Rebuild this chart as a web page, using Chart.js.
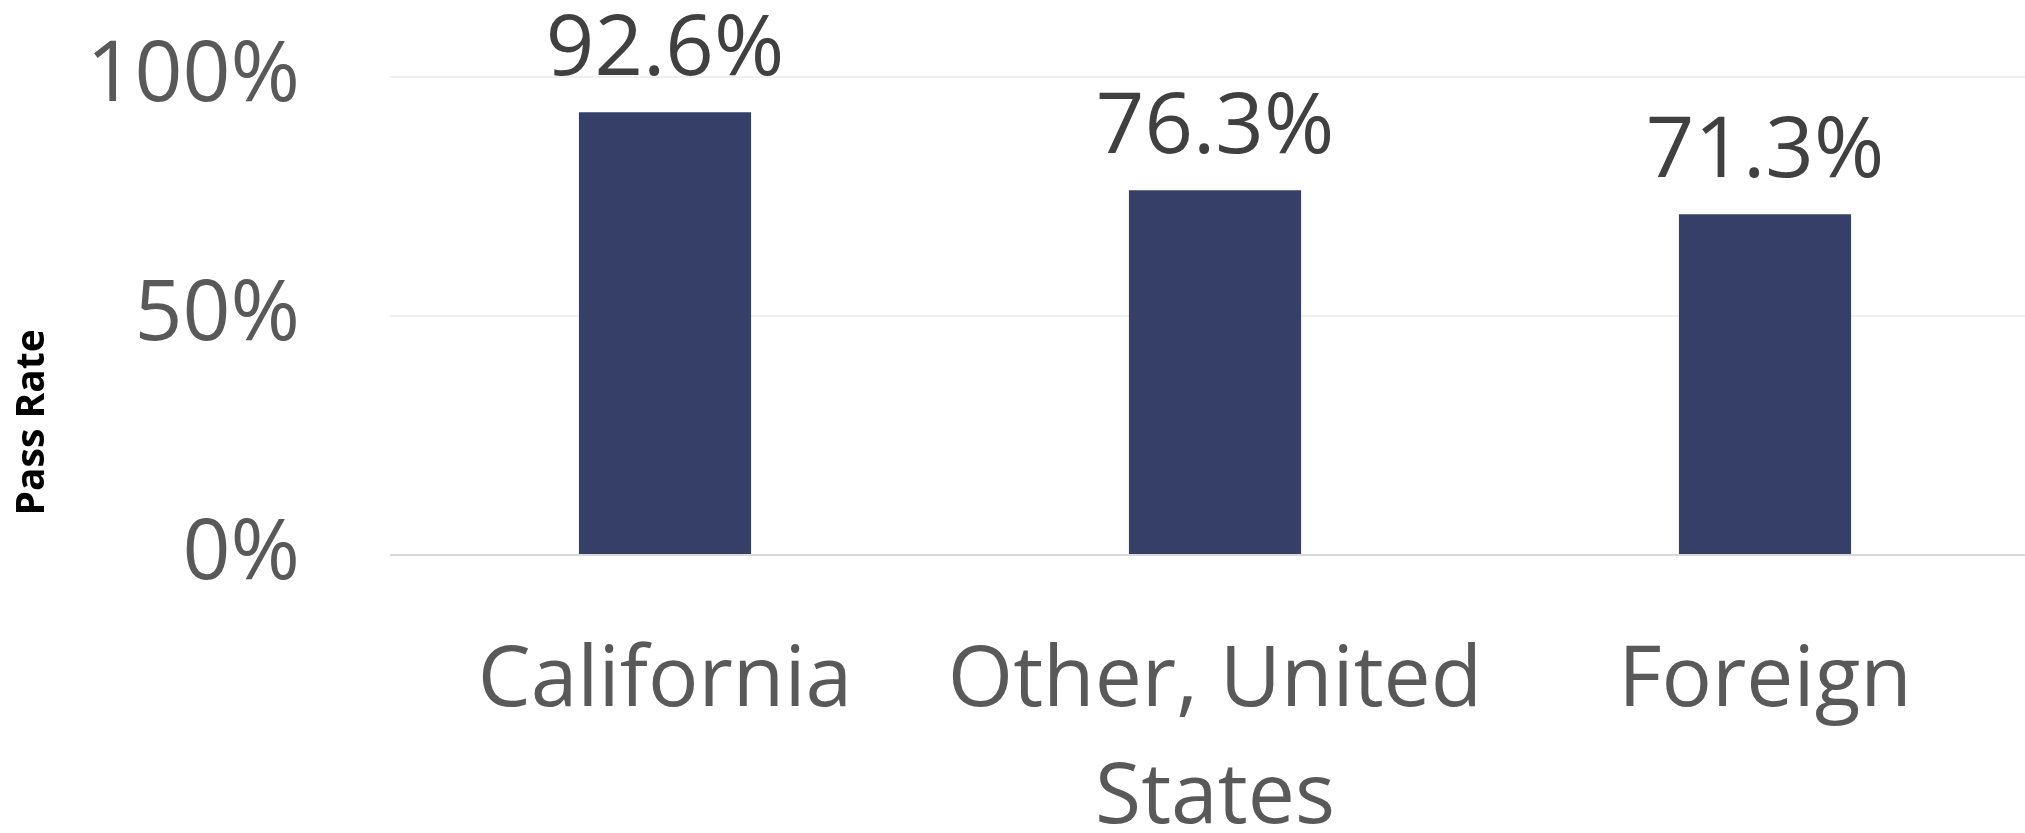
<!DOCTYPE html>
<html>
<head>
<meta charset="utf-8">
<script src="https://cdn.jsdelivr.net/npm/chart.js@4.4.1/dist/chart.umd.min.js"></script>
<style>
  html, body { margin: 0; padding: 0; background: #fff; overflow: hidden; }
  /* plot runs a little past the right edge in the original, so the canvas is wider than the window */
  #wrap { width: 2040px; height: 833px; position: relative; }
</style>
</head>
<body>
<div id="wrap"><canvas id="passChart"></canvas></div>
<script>
const categories = ['California', ['Other, United', 'States'], 'Foreign'];
const passRates = [92.6, 76.3, 71.3];
const yTicks = [0, 50, 100];
const yTitle = 'Pass Rate';

// value labels above bars
const barLabels = {
  id: 'barLabels',
  afterDatasetsDraw(chart) {
    const ctx = chart.ctx;
    const meta = chart.getDatasetMeta(0);
    ctx.save();
    ctx.font = '85px "Open Sans"';
    ctx.fillStyle = '#404040';
    ctx.textAlign = 'center';
    ctx.textBaseline = 'alphabetic';
    meta.data.forEach((bar, i) => {
      ctx.fillText(passRates[i].toFixed(1) + '%', bar.x, bar.y - 37);
    });
    ctx.restore();
  }
};

// rotated axis title, sits lower than the plot middle like the original
const sideTitle = {
  id: 'sideTitle',
  afterDraw(chart) {
    const ctx = chart.ctx;
    ctx.save();
    ctx.translate(33, chart.height * 0.507);
    ctx.rotate(-Math.PI / 2);
    ctx.font = 'bold 39px "Open Sans"';
    ctx.fillStyle = '#000';
    ctx.textAlign = 'center';
    ctx.textBaseline = 'middle';
    ctx.fillText(yTitle, 0, 0);
    ctx.restore();
  }
};

new Chart(document.getElementById('passChart').getContext('2d'), {
  type: 'bar',
  data: {
    labels: categories,
    datasets: [{
      data: passRates,
      backgroundColor: '#353f68',
      borderWidth: 0,
      categoryPercentage: 1,
      barPercentage: 0.313
    }]
  },
  options: {
    responsive: true,
    maintainAspectRatio: false,
    animation: false,
    layout: { padding: { top: 77, right: 0, left: 0, bottom: 0 } },
    plugins: {
      legend: { display: false },
      tooltip: { enabled: false }
    },
    scales: {
      x: {
        grid: { display: false },
        border: { display: false },
        ticks: {
          color: '#595959',
          font: { family: 'Open Sans', size: 84, lineHeight: 1.4 },
          padding: 60,
          maxRotation: 0,
          autoSkip: false
        },
        afterFit(scale) { scale.height = 278; }
      },
      y: {
        min: 0,
        max: 100,
        afterBuildTicks(scale) { scale.ticks = yTicks.map(v => ({ value: v })); },
        grid: {
          color: c => c.tick && c.tick.value === 0 ? '#d9d9d9' : '#f0f0f0',
          lineWidth: 2,
          drawTicks: false
        },
        border: { display: false },
        ticks: {
          color: '#595959',
          font: { family: 'Open Sans', size: 84 },
          padding: 90,
          callback: v => v + '%'
        },
        afterFit(scale) {
          scale.width = 390;
          scale.paddingTop = 0;
          scale.paddingBottom = 0;
        }
      }
    }
  },
  plugins: [barLabels, sideTitle]
});
</script>
</body>
</html>
